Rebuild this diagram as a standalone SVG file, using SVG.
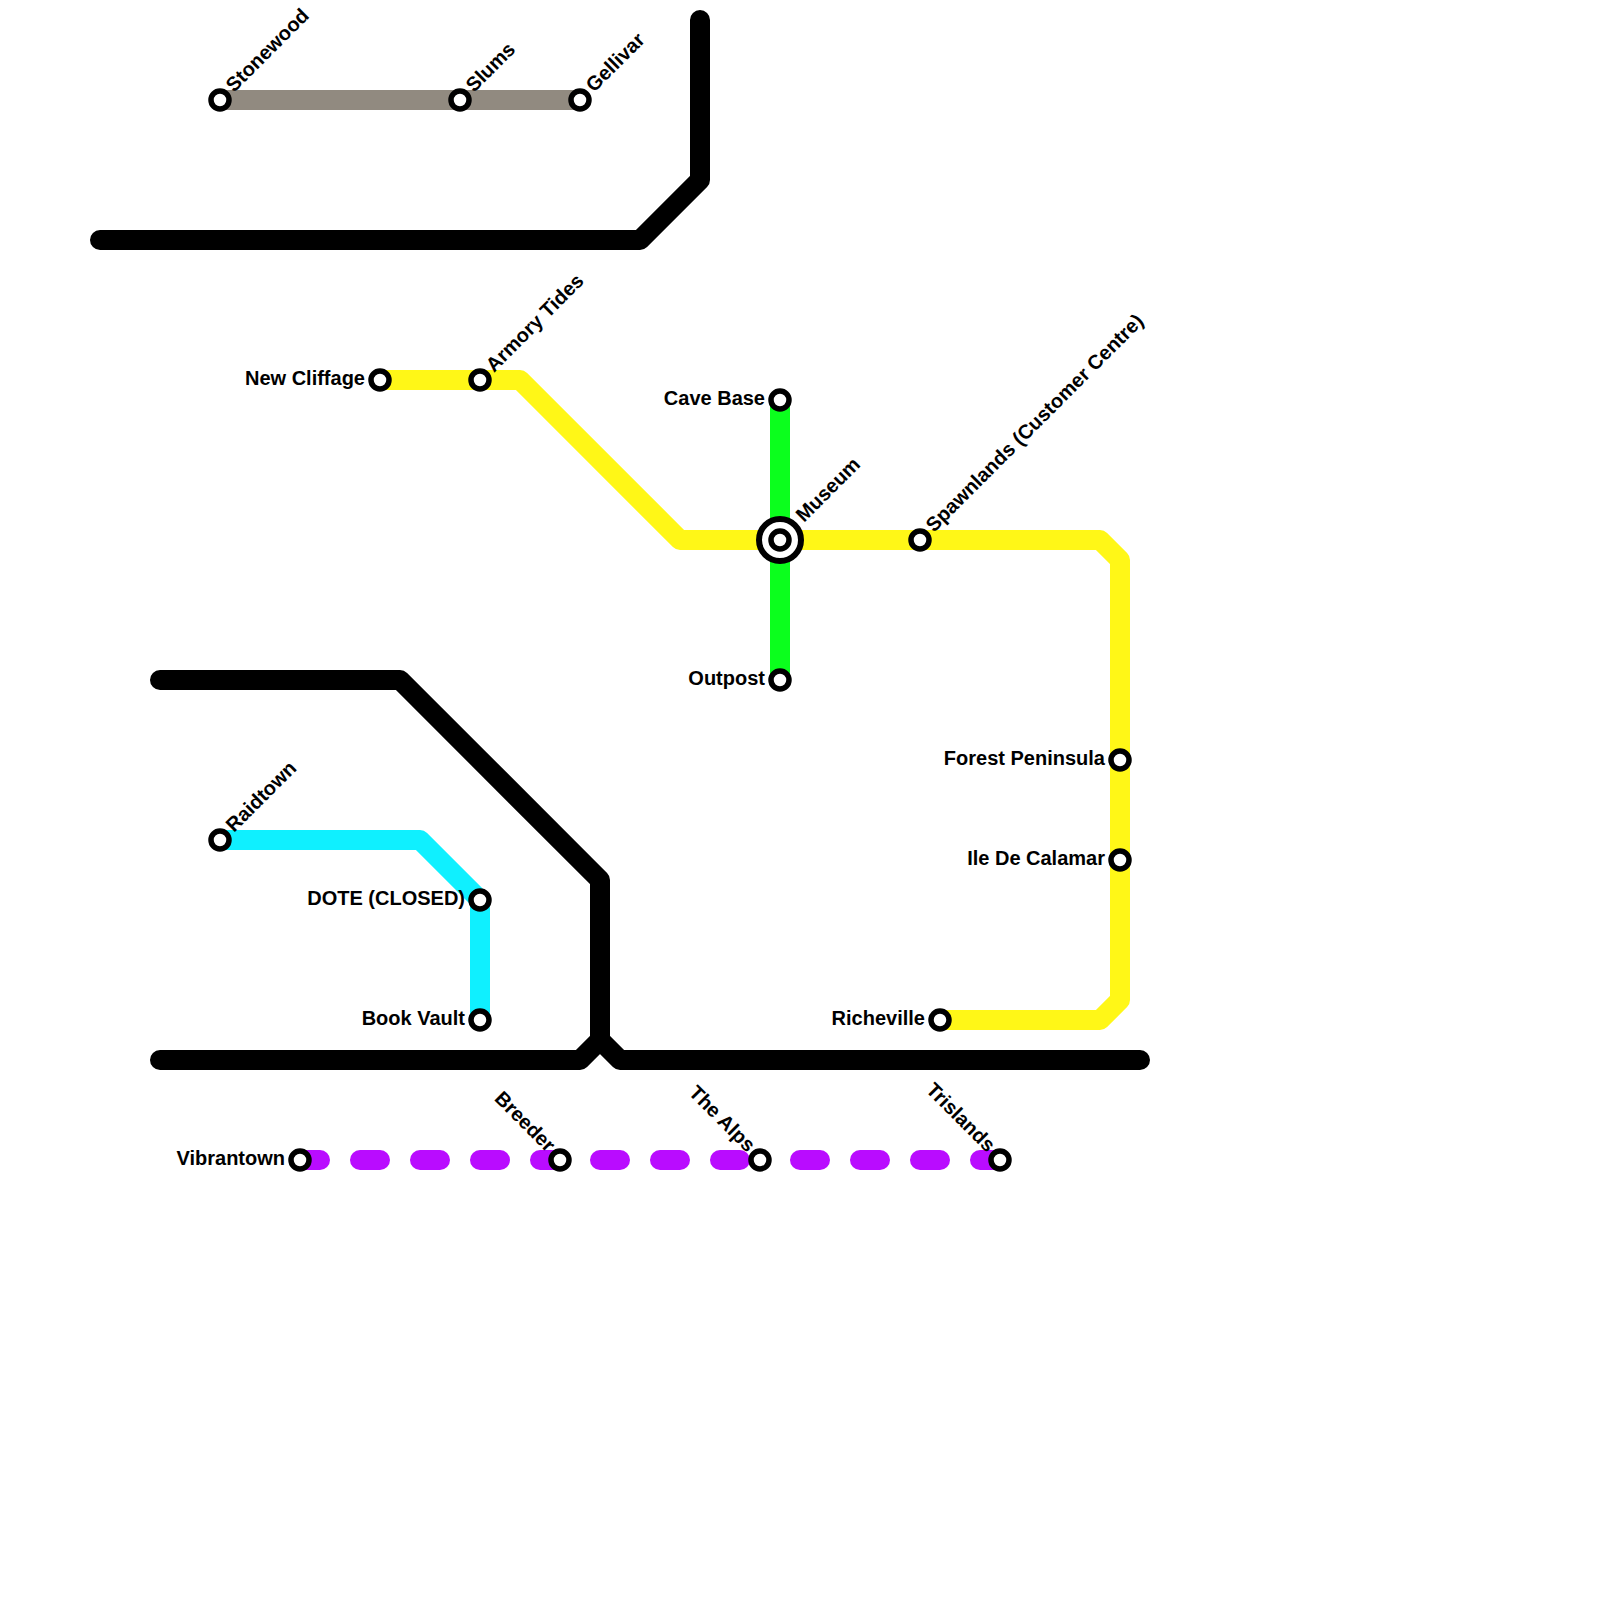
<svg xmlns="http://www.w3.org/2000/svg" width="1600" height="1600" viewBox="0 0 1600 1600">
<style>
.l{fill:none;stroke-width:20;stroke-linecap:round;stroke-linejoin:round}
.s{fill:#fff;stroke:#000;stroke-width:5.500}
.t{font-family:"Liberation Sans",Arial,sans-serif;font-size:20px;font-weight:700;fill:#000}
.e{text-anchor:end}
</style>
<rect width="1600" height="1600" fill="#fff"/>
<g id="connectors">
<path class="l" stroke="#000" d="M100 240H640L700 180V20"/>
<path class="l" stroke="#000" d="M160 680H400L600 880V1040"/>
<path class="l" stroke="#000" d="M160 1060H580L600 1040L620 1060H1140"/>
<path class="l" stroke="#918a80" d="M220 100H580"/>
<path class="l" stroke="#0bff1d" d="M780 400V680"/>
<path class="l" stroke="#fff717" d="M380 380H520L680 540H1100L1120 560V1000L1100 1020H940"/>
<path class="l" stroke="#0ff0ff" d="M220 840H420L480 900V1020"/>
<path class="l" stroke="#b90cff" stroke-dasharray="20 40" d="M300 1160H760"/>
<path class="l" stroke="#b90cff" stroke-dasharray="20 40" d="M1000 1160H770"/>
</g>
<g id="stonewood"><circle class="s" cx="220" cy="100" r="9"/><text class="t" transform="translate(234 93) rotate(-45)">Stonewood</text></g>
<g id="slums"><circle class="s" cx="460" cy="100" r="9"/><text class="t" transform="translate(474 93) rotate(-45)">Slums</text></g>
<g id="gellivar"><circle class="s" cx="580" cy="100" r="9"/><text class="t" transform="translate(594 93) rotate(-45)">Gellivar</text></g>
<g id="new-cliffage"><circle class="s" cx="380" cy="380" r="9"/><text class="t e" x="365" y="384.500">New Cliffage</text></g>
<g id="armory-tides"><circle class="s" cx="480" cy="380" r="9"/><text class="t" transform="translate(494 373) rotate(-45)">Armory Tides</text></g>
<g id="cave-base"><circle class="s" cx="780" cy="400" r="9"/><text class="t e" x="765" y="404.500">Cave Base</text></g>
<g id="museum"><circle cx="780" cy="540" r="21" fill="#fff" stroke="#000" stroke-width="6"/><circle class="s" cx="780" cy="540" r="9"/><text class="t" transform="translate(804 523) rotate(-45)">Museum</text></g>
<g id="spawnlands"><circle class="s" cx="920" cy="540" r="9"/><text class="t" transform="translate(934 533) rotate(-45)">Spawnlands (Customer Centre)</text></g>
<g id="outpost"><circle class="s" cx="780" cy="680" r="9"/><text class="t e" x="765" y="684.500">Outpost</text></g>
<g id="forest-peninsula"><circle class="s" cx="1120" cy="760" r="9"/><text class="t e" x="1105" y="764.500">Forest Peninsula</text></g>
<g id="ile-de-calamar"><circle class="s" cx="1120" cy="860" r="9"/><text class="t e" x="1105" y="864.500">Ile De Calamar</text></g>
<g id="richeville"><circle class="s" cx="940" cy="1020" r="9"/><text class="t e" x="925" y="1024.500">Richeville</text></g>
<g id="raidtown"><circle class="s" cx="220" cy="840" r="9"/><text class="t" transform="translate(234 833) rotate(-45)">Raidtown</text></g>
<g id="dote"><circle class="s" cx="480" cy="900" r="9"/><text class="t e" x="465" y="904.500">DOTE (CLOSED)</text></g>
<g id="book-vault"><circle class="s" cx="480" cy="1020" r="9"/><text class="t e" x="465" y="1024.500">Book Vault</text></g>
<g id="vibrantown"><circle class="s" cx="300" cy="1160" r="9"/><text class="t e" x="285" y="1164.500">Vibrantown</text></g>
<g id="breeder"><circle class="s" cx="560" cy="1160" r="9"/><text class="t e" transform="translate(547 1153) rotate(45)">Breeder</text></g>
<g id="the-alps"><circle class="s" cx="760" cy="1160" r="9"/><text class="t e" transform="translate(747 1153) rotate(45)">The Alps</text></g>
<g id="trislands"><circle class="s" cx="1000" cy="1160" r="9"/><text class="t e" transform="translate(987 1153) rotate(45)">Trislands</text></g>
</svg>
